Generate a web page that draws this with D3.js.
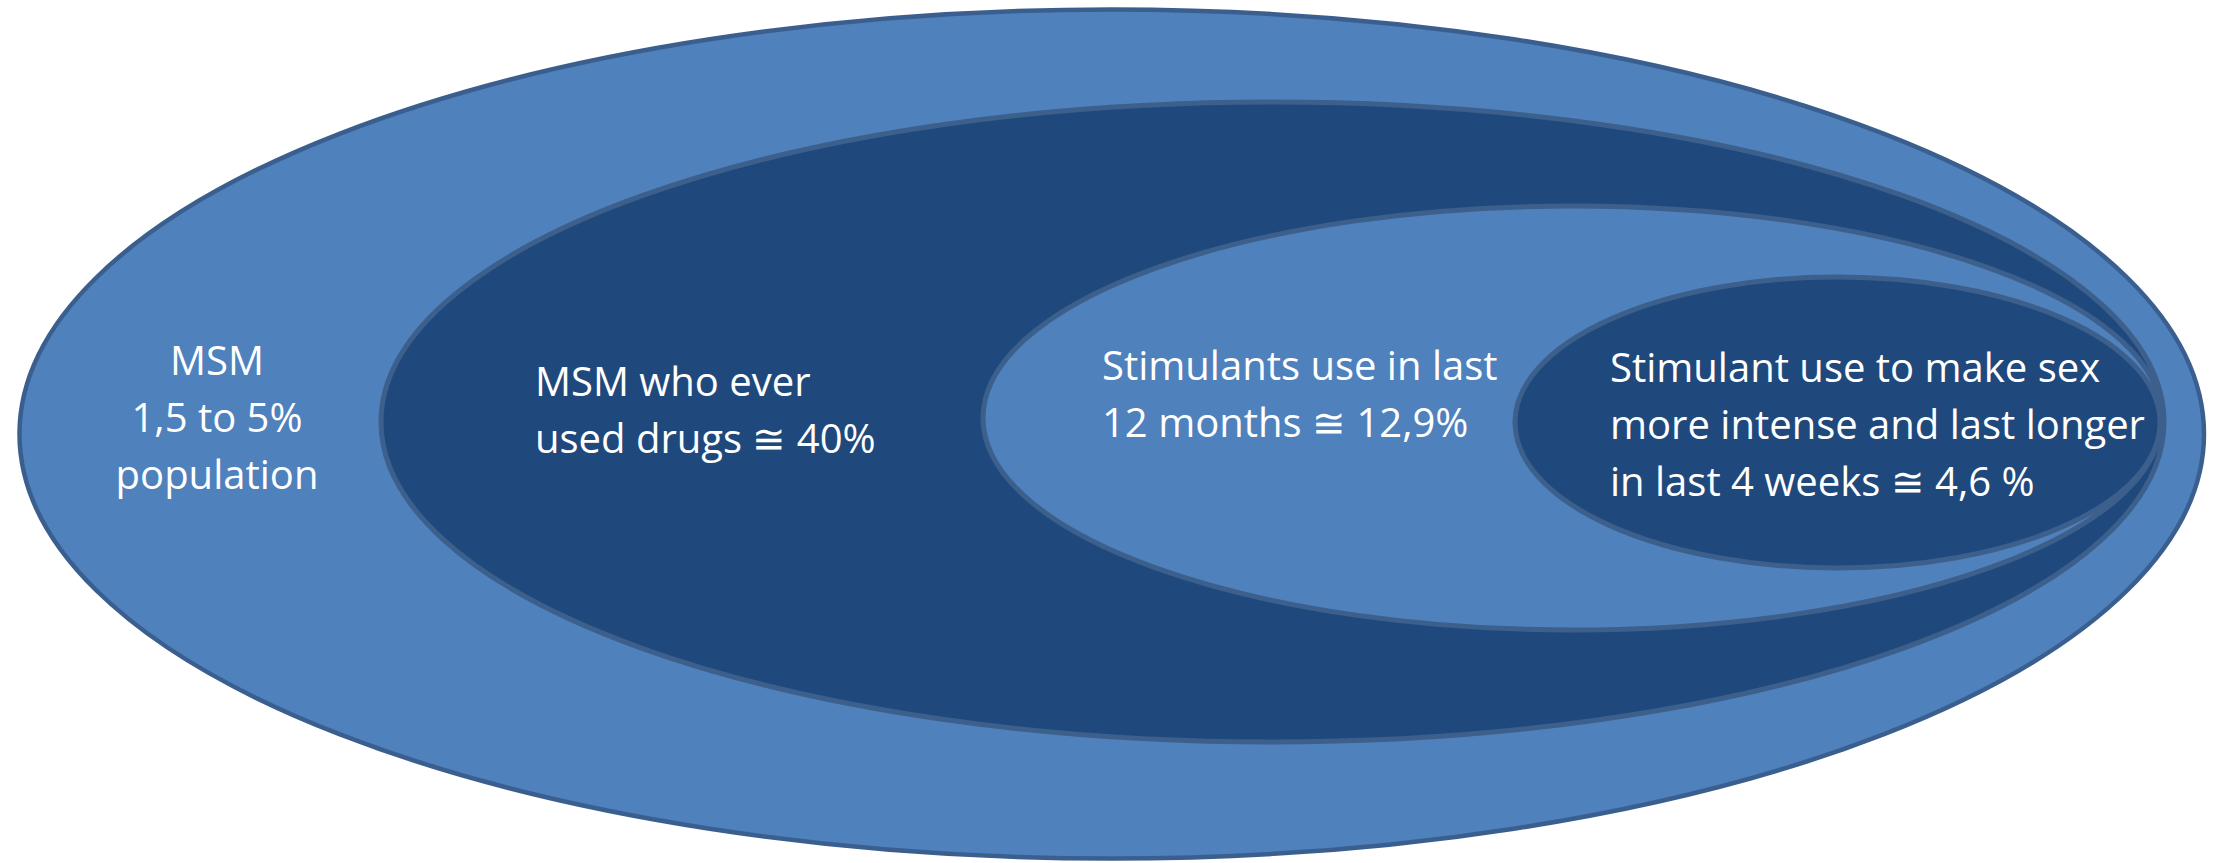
<!DOCTYPE html>
<html>
<head>
<meta charset="utf-8">
<script src="https://cdn.jsdelivr.net/npm/d3@7"></script>
<style>
  body { margin: 0; background: #fff; }
  svg { display: block; }
  .label { fill: #fff; font-family: "Open Sans", "Noto Sans", sans-serif; font-size: 40px; }
</style>
</head>
<body>
<svg id="chart"></svg>
<script>
// nested groups, outermost first
var groups = ['MSM', 'Ever used drugs', 'Stimulants 12 months', 'Stimulants for sex 4 weeks'];
// extents of each ellipse in reference units
var lefts   = [19.5, 381, 983, 1515];
var rights  = [2204, 2164, 2162, 2160];
var tops    = [9.5, 102, 206, 277];
var bottoms = [858.5, 742, 630, 568];
var fills   = ['#4f81bd', '#1f497d', '#4f81bd', '#1f497d'];

// label lines for each group
var labelLines = [
  ['MSM', '1,5 to 5%', 'population'],
  ['MSM who ever', 'used drugs \u2245 40%'],
  ['Stimulants use in last', '12 months \u2245 12,9%'],
  ['Stimulant use to make sex', 'more intense and last longer', 'in last 4 weeks \u2245 4,6 %']
];
var labelX = [217, 535, 1102, 1610];
var labelY = [375, 396, 380, 382];
var labelAnchor = ['middle', 'start', 'start', 'start'];

var width = 2221;
var height = 863;

var svg = d3.select('#chart')
  .attr('width', width)
  .attr('height', height);

var x = d3.scaleLinear().domain([0, 2221]).range([0, width]);
var y = d3.scaleLinear().domain([0, 863]).range([0, height]);

var data = groups.map(function (g, i) {
  return {
    name: g,
    left: lefts[i], right: rights[i], top: tops[i], bottom: bottoms[i],
    fill: fills[i], lines: labelLines[i],
    lx: labelX[i], ly: labelY[i], anchor: labelAnchor[i]
  };
});

svg.selectAll('ellipse')
  .data(data)
  .enter()
  .append('ellipse')
  .attr('cx', (d) => (x(d.left) + x(d.right)) / 2)
  .attr('cy', (d) => (y(d.top) + y(d.bottom)) / 2)
  .attr('rx', (d) => (x(d.right) - x(d.left)) / 2)
  .attr('ry', (d) => (y(d.bottom) - y(d.top)) / 2)
  .attr('fill', (d) => d.fill)
  .attr('stroke', (d, i) => i === 0 ? '#3a5f8f' : '#3c5f8c')
  .attr('stroke-width', (d, i) => i === 0 ? 4.5 : 5);

var lineStep = 57;

var labels = svg.selectAll('text.label')
  .data(data)
  .enter()
  .append('text')
  .attr('class', 'label')
  .attr('text-anchor', (d) => d.anchor);

labels.selectAll('tspan')
  .data((d) => d.lines.map((t, j) => ({ t: t, j: j, d: d })))
  .enter()
  .append('tspan')
  .attr('x', (s) => x(s.d.lx))
  .attr('y', (s) => y(s.d.ly + s.j * lineStep))
  .text((s) => s.t);
</script>
</body>
</html>
